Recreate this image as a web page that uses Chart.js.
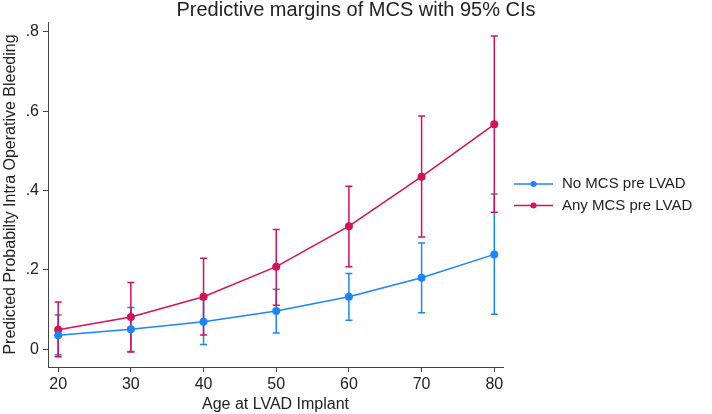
<!DOCTYPE html>
<html>
<head>
<meta charset="utf-8">
<title>Predictive margins of MCS</title>
<script src="https://cdn.jsdelivr.net/npm/chart.js@4.4.1/dist/chart.umd.min.js"></script>
<style>
  html, body { margin: 0; padding: 0; background: #fff; }
  #wrap { width: 712px; height: 414px; }
</style>
</head>
<body>
<div id="wrap"><canvas id="chart" width="712" height="414"></canvas></div>
<script>
const ages = [20, 30, 40, 50, 60, 70, 80];

const noMcs      = [0.035, 0.050, 0.069, 0.096, 0.132, 0.180, 0.239];
const noMcsLow   = [-0.015, -0.006, 0.012, 0.041, 0.073, 0.092, 0.088];
const noMcsHigh  = [0.086, 0.105, 0.126, 0.151, 0.191, 0.268, 0.391];

const anyMcs     = [0.049, 0.081, 0.132, 0.208, 0.310, 0.435, 0.567];
const anyMcsLow  = [-0.019, -0.007, 0.036, 0.111, 0.208, 0.283, 0.345];
const anyMcsHigh = [0.119, 0.168, 0.229, 0.302, 0.411, 0.588, 0.790];

const xTicks = [20, 30, 40, 50, 60, 70, 80];
const xTickLabels = ["20", "30", "40", "50", "60", "70", "80"];
const yTicks = [0, 0.2, 0.4, 0.6, 0.8];
const yTickLabels = ["0", ".2", ".4", ".6", ".8"];

const chartTitle = "Predictive margins of MCS with 95% CIs";

const BLUE = "#1a85ff";
const RED = "#d41159";
const FONT = "'Liberation Sans', Arial, sans-serif";
const INK = "#222";

const errorBars = [
  { low: noMcsLow, high: noMcsHigh, color: BLUE },
  { low: anyMcsLow, high: anyMcsHigh, color: RED }
];

// draws the 95% CI whiskers under the points
const ciPlugin = {
  id: "ciBars",
  beforeDatasetsDraw(chart) {
    const ctx = chart.ctx;
    const xs = chart.scales.x, ys = chart.scales.y;
    ctx.save();
    errorBars.forEach(bar => {
      ctx.strokeStyle = bar.color;
      ctx.lineWidth = 1.5;
      ages.forEach((a, i) => {
        const px = xs.getPixelForValue(a);
        const top = ys.getPixelForValue(bar.high[i]);
        const bot = ys.getPixelForValue(bar.low[i]);
        ctx.beginPath();
        ctx.moveTo(px, top); ctx.lineTo(px, bot);
        ctx.moveTo(px - 3.5, top); ctx.lineTo(px + 3.5, top);
        ctx.moveTo(px - 3.5, bot); ctx.lineTo(px + 3.5, bot);
        ctx.stroke();
      });
    });
    ctx.restore();
  }
};

// title centred on the whole canvas + legend at the right, line with a dot like Stata
const textPlugin = {
  id: "sideLegend",
  afterDraw(chart) {
    const ctx = chart.ctx;
    ctx.save();
    ctx.fillStyle = INK;
    ctx.font = "20px " + FONT;
    ctx.textAlign = "center";
    ctx.textBaseline = "alphabetic";
    ctx.fillText(chartTitle, chart.width / 2, 16);

    ctx.textAlign = "left";
    chart.data.datasets.forEach((ds, i) => {
      const y = 184 + i * 21.5;
      ctx.strokeStyle = ds.borderColor;
      ctx.lineWidth = 1.5;
      ctx.beginPath();
      ctx.moveTo(514, y); ctx.lineTo(553, y);
      ctx.stroke();
      ctx.fillStyle = ds.borderColor;
      ctx.beginPath();
      ctx.arc(533.5, y, 3, 0, Math.PI * 2);
      ctx.fill();
      ctx.fillStyle = INK;
      ctx.font = "15px " + FONT;
      ctx.textBaseline = "middle";
      ctx.fillText(ds.label, 562, y);
    });
    ctx.restore();
  }
};

const toPoints = (vals) => ages.map((a, i) => ({ x: a, y: vals[i] }));

new Chart(document.getElementById("chart"), {
  type: "line",
  data: {
    datasets: [
      {
        label: "No MCS pre LVAD",
        data: toPoints(noMcs),
        borderColor: BLUE,
        backgroundColor: BLUE,
        borderWidth: 1.5,
        pointRadius: 4,
        pointBorderWidth: 0,
        tension: 0
      },
      {
        label: "Any MCS pre LVAD",
        data: toPoints(anyMcs),
        borderColor: RED,
        backgroundColor: RED,
        borderWidth: 1.5,
        pointRadius: 4,
        pointBorderWidth: 0,
        tension: 0
      }
    ]
  },
  options: {
    responsive: false,
    animation: false,
    layout: { padding: { left: 0, right: 209, top: 22, bottom: 0 } },
    plugins: {
      legend: { display: false },
      tooltip: { enabled: false },
      title: { display: false }
    },
    scales: {
      x: {
        type: "linear",
        min: 18.6,
        max: 81.2,
        afterBuildTicks: (s) => { s.ticks = xTicks.map(v => ({ value: v })); },
        afterFit: (s) => { s.height = 47; },
        ticks: {
          color: INK,
          font: { family: FONT, size: 16 },
          padding: 3,
          maxRotation: 0,
          callback: (v) => xTickLabels[xTicks.indexOf(v)]
        },
        grid: { display: true, drawOnChartArea: false, tickLength: 5, color: "#444" },
        border: { display: true, color: "#444", width: 1 },
        title: {
          display: true,
          text: "Age at LVAD Implant",
          color: INK,
          font: { family: FONT, size: 16 },
          padding: { top: 0, bottom: 0 }
        }
      },
      y: {
        min: -0.045,
        max: 0.825,
        afterBuildTicks: (s) => { s.ticks = yTicks.map(v => ({ value: v })); },
        afterFit: (s) => { s.width = 48; },
        ticks: {
          color: INK,
          font: { family: FONT, size: 16 },
          padding: 4,
          callback: (v) => yTickLabels[yTicks.findIndex(t => Math.abs(t - v) < 1e-9)]
        },
        grid: { display: true, drawOnChartArea: false, tickLength: 5, color: "#444" },
        border: { display: true, color: "#444", width: 1 },
        title: {
          display: true,
          text: "Predicted Probabilty Intra Operative Bleeding",
          color: INK,
          font: { family: FONT, size: 16 },
          padding: { top: 1, bottom: 0 }
        }
      }
    }
  },
  plugins: [ciPlugin, textPlugin]
});
</script>
</body>
</html>
